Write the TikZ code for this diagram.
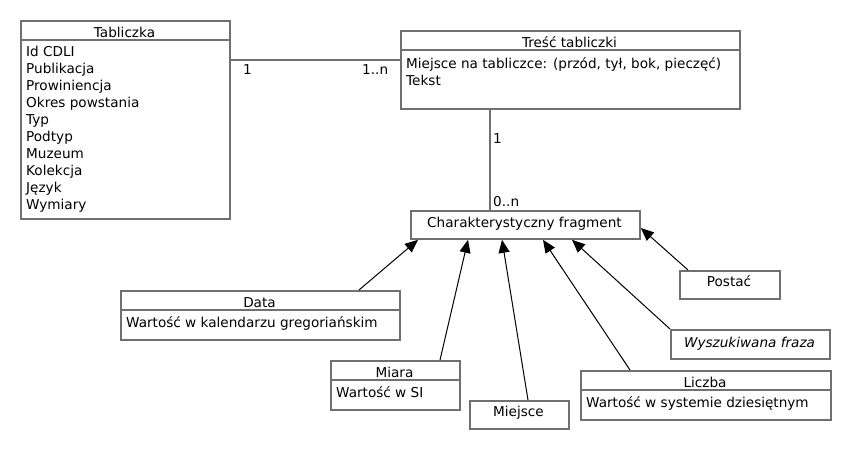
\documentclass[tikz,border=0pt]{standalone}
\usepackage{fontspec}
\setmainfont{DejaVu Sans}
\usetikzlibrary{arrows.meta}
\definecolor{bord}{RGB}{112,112,112}
\tikzset{
  box/.style={draw=bord, line width=1.8pt, fill=white, inner sep=0pt, anchor=north west},
  sep/.style={draw=bord, line width=1.8pt},
  assoc/.style={draw=bord, line width=1.8pt},
  txt/.style={inner sep=0pt, anchor=base west, font=\fontsize{13.6}{17}\selectfont},
  ctxt/.style={inner sep=0pt, anchor=base, font=\fontsize{13.6}{17}\selectfont},
  gen/.style={draw=black, line width=1pt, -{Triangle[length=13pt,width=11pt]}}
}
\begin{document}
\begin{tikzpicture}[x=1pt,y=-1pt]
\useasboundingbox[fill=white] (0,0) rectangle (850,450);

% Tabliczka
\node[box, minimum width=209pt, minimum height=198pt] (tab) at (20,20) {};
\draw[sep] ([yshift=-20pt]tab.north west) -- ([yshift=-20pt]tab.north east);
\node[ctxt] (tabt) at (124.5,37) {Tabliczka};
\foreach \t [count=\i] in {Id CDLI,Publikacja,Prowiniencja,Okres powstania,Typ,Podtyp,Muzeum,Kolekcja,Język,Wymiary}
  \node[txt] (taba\i) at (26,{56.7+17*(\i-1)}) {\t};

% Tresc tabliczki
\node[box, minimum width=339pt, minimum height=78pt] (tres) at (400,30) {};
\draw[sep] ([yshift=-20pt]tres.north west) -- ([yshift=-20pt]tres.north east);
\node[ctxt] (trest) at (569.5,47) {Treść tabliczki};
\node[txt] (tresa1) at (406,68) {Miejsce na tabliczce: (przód, tył, bok, pieczęć)};
\node[txt] (tresa2) at (406,85) {Tekst};

% Charakterystyczny fragment
\node[box, minimum width=229pt, minimum height=28pt] (frag) at (410,210) {};
\node[ctxt] (fragt) at (524.5,227.5) {Charakterystyczny fragment};

% Data
\node[box, minimum width=279pt, minimum height=49pt] (data) at (120,290) {};
\draw[sep] ([yshift=-20pt]data.north west) -- ([yshift=-20pt]data.north east);
\node[ctxt] (datat) at (259.5,307) {Data};
\node[txt] (dataa) at (126,327) {Wartość w kalendarzu gregoriańskim};

% Miara
\node[box, minimum width=129pt, minimum height=49pt] (miara) at (330,360) {};
\draw[sep] ([yshift=-20pt]miara.north west) -- ([yshift=-20pt]miara.north east);
\node[ctxt] (miarat) at (394.5,377) {Miara};
\node[txt] (miaraa) at (336,397) {Wartość w SI};

% Miejsce
\node[box, minimum width=99pt, minimum height=28pt] (miejsce) at (469,400) {};
\node[ctxt] (miejscet) at (518.5,416.5) {Miejsce};

% Liczba
\node[box, minimum width=250pt, minimum height=49pt] (liczba) at (580,370) {};
\draw[sep] ([yshift=-20pt]liczba.north west) -- ([yshift=-20pt]liczba.north east);
\node[ctxt] (liczbat) at (705,387) {Liczba};
\node[txt] (liczbaa) at (586,407) {Wartość w systemie dziesiętnym};

% Wyszukiwana fraza
\node[box, minimum width=159pt, minimum height=29pt] (fraza) at (670,329) {};
\node[ctxt] (frazat) at (749.5,347) {\itshape Wyszukiwana fraza};

% Postac
\node[box, minimum width=100pt, minimum height=28pt] (postac) at (679,270) {};
\node[ctxt] (postact) at (729,286.5) {Postać};

% associations
\draw[assoc] ([yshift=-40pt]tab.north east) -- ([yshift=-30pt]tres.north west);
\node[txt] (m1) at (243,74.5) {1};
\node[txt] (m2) at (362,74.5) {1..n};
\draw[assoc] ([xshift=90pt]tres.south west) -- ([xshift=80pt]frag.north west);
\node[txt] (m3) at (493,143) {1};
\node[txt] (m4) at (493,206.5) {0..n};

% generalizations
\draw[gen] ([xshift=239pt]data.north west) -- ([xshift=8pt]frag.south west);
\draw[gen] ([xshift=110pt]miara.north west) -- ([xshift=58pt]frag.south west);
\draw[gen] ([xshift=59pt]miejsce.north west) -- ([xshift=92pt]frag.south west);
\draw[gen] ([xshift=50pt]liczba.north west) -- ([xshift=133pt]frag.south west);
\draw[gen] (fraza.north west) -- ([xshift=162pt]frag.south west);
\draw[gen] ([xshift=9pt]postac.north west) -- ([yshift=-18pt]frag.north east);
\end{tikzpicture}
\end{document}
